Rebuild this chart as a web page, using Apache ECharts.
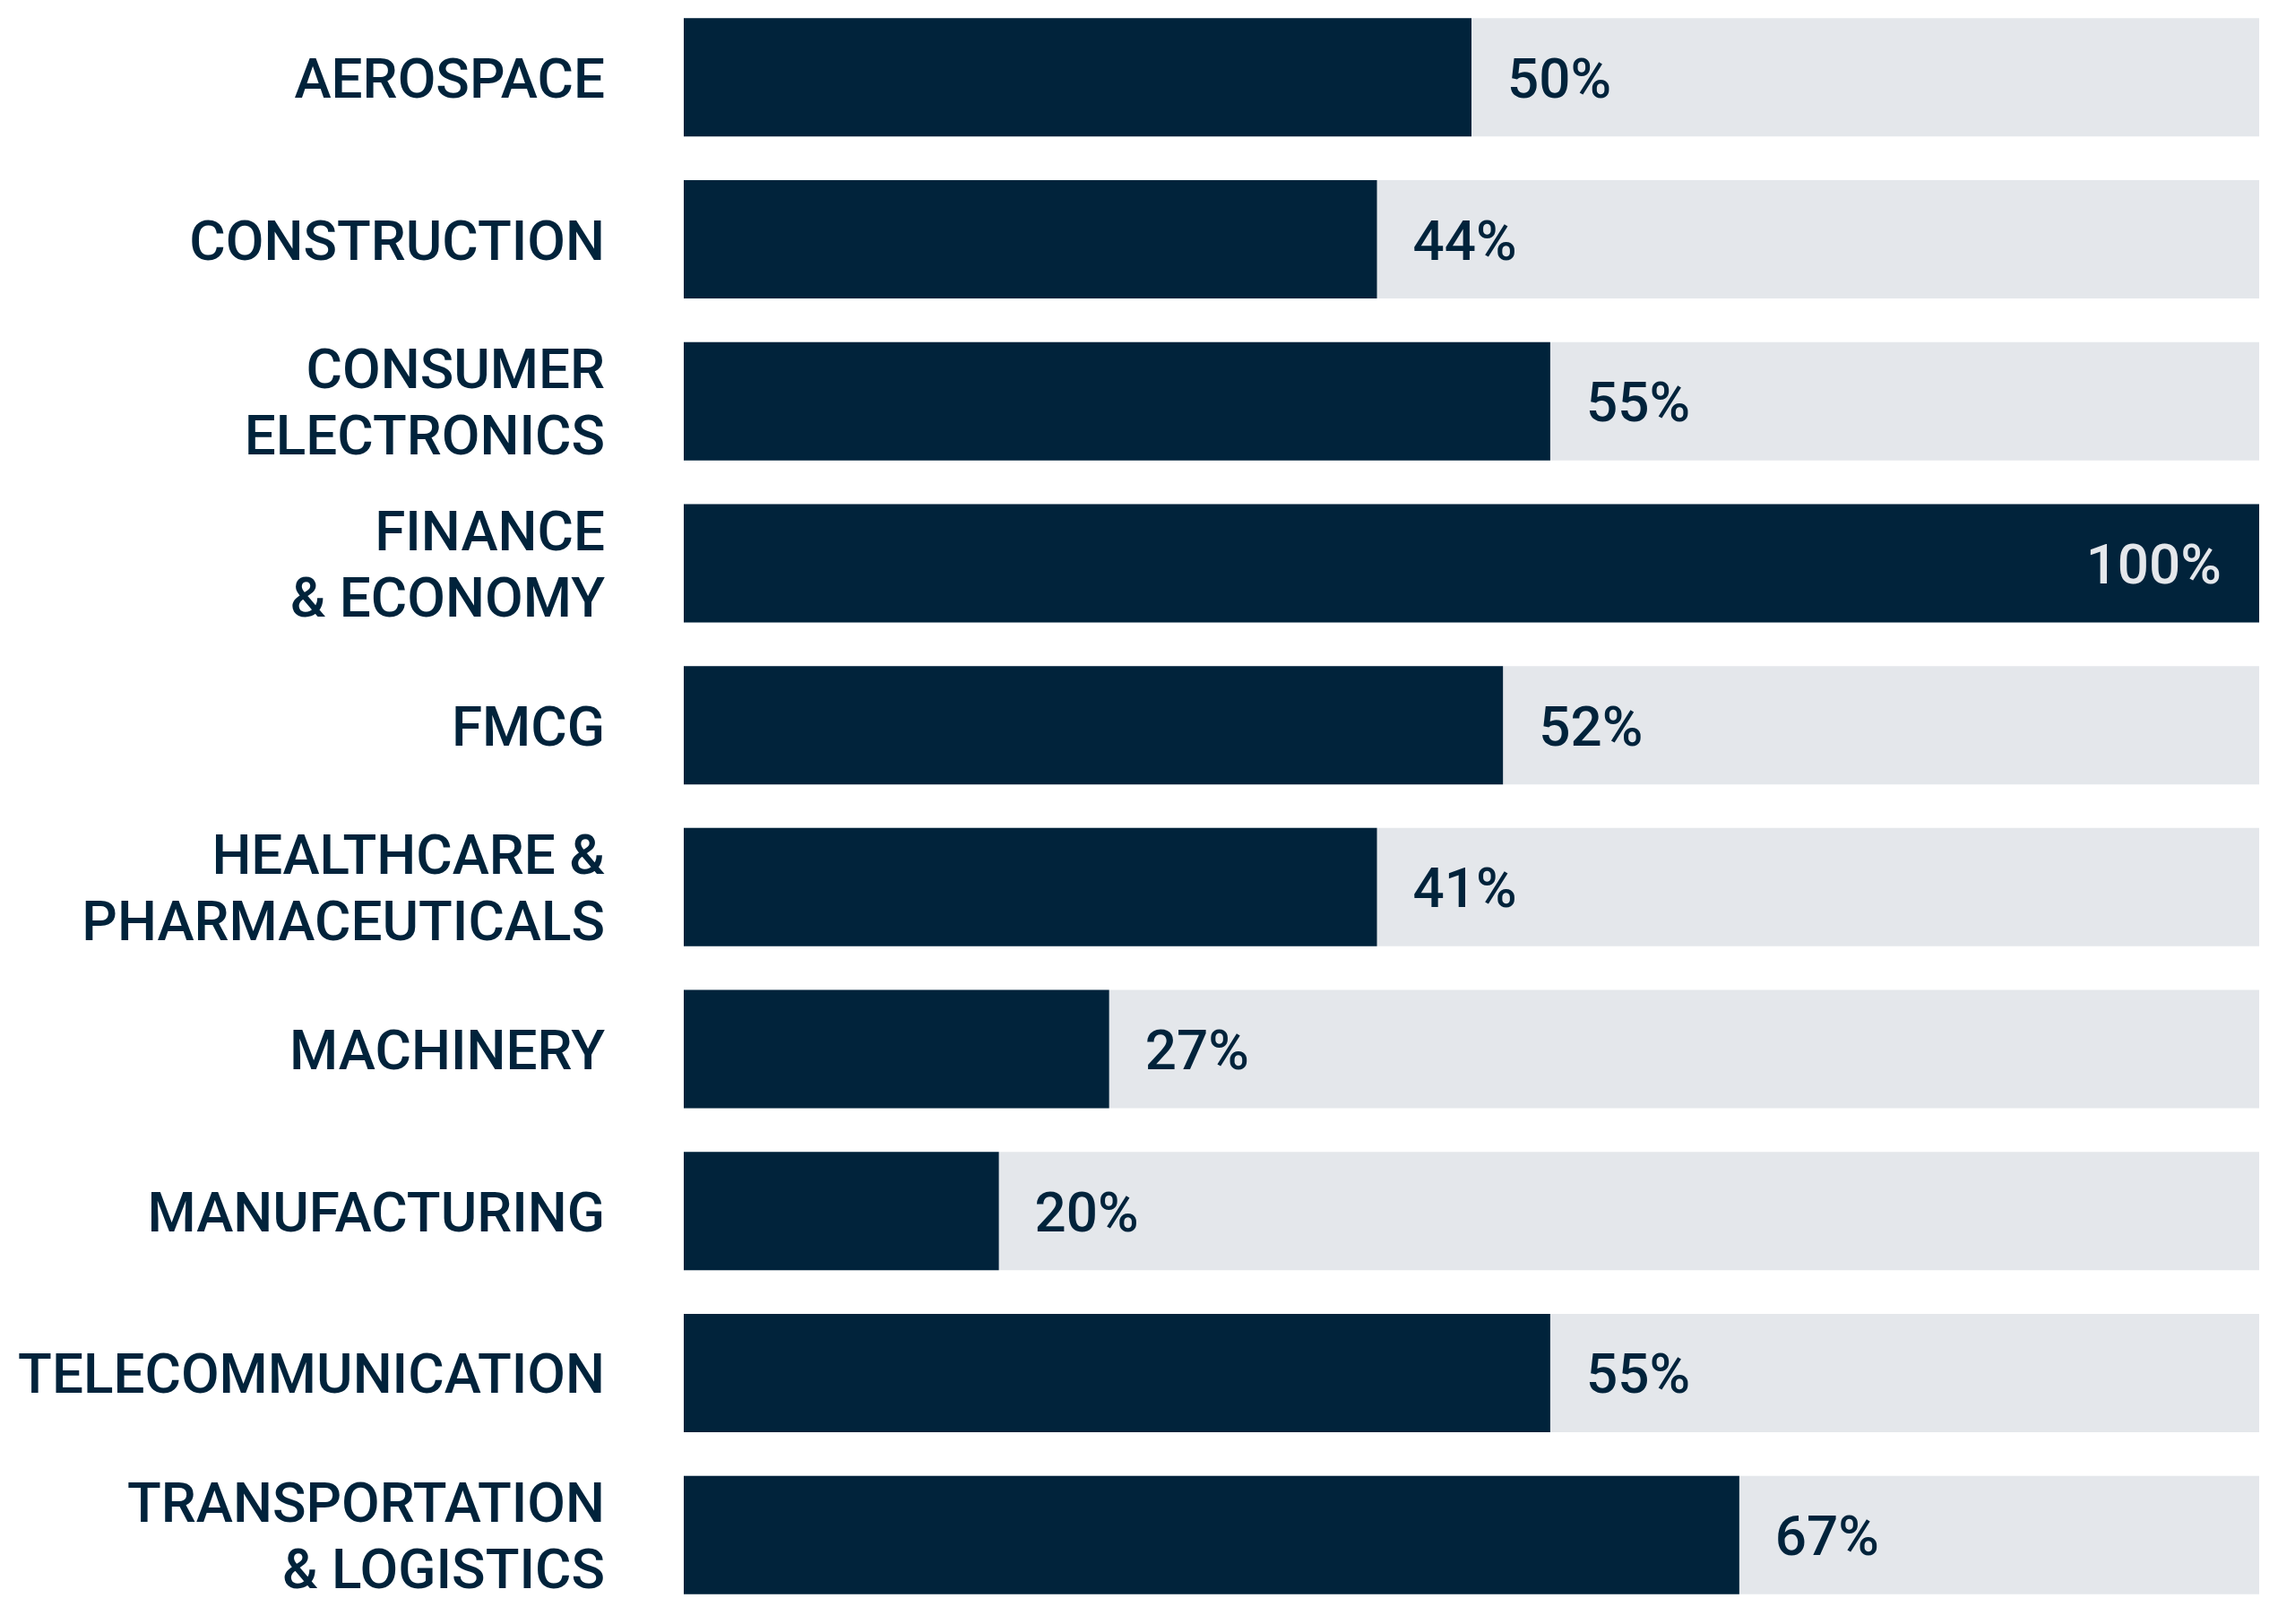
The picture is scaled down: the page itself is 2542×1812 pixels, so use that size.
<!DOCTYPE html>
<html>
<head>
<meta charset="utf-8">
<script src="https://cdn.jsdelivr.net/npm/echarts@6/dist/echarts.min.js"></script>
<style>
  html, body { margin: 0; padding: 0; background: #fff; overflow: hidden; }
  /* chart box starts a few px above the page so the first band is cut like the source */
  #chart { position: relative; top: -4px; width: 2542px; height: 1816px; }
</style>
</head>
<body>
<div id="chart"></div>
<script>
// industries, top to bottom
var categories = [
  'AEROSPACE',
  'CONSTRUCTION',
  'CONSUMER\nELECTRONICS',
  'FINANCE\n& ECONOMY',
  'FMCG',
  'HEALTHCARE &\nPHARMACEUTICALS',
  'MACHINERY',
  'MANUFACTURING',
  'TELECOMMUNICATION',
  'TRANSPORTATION\n& LOGISTICS'
];
// bar lengths as drawn
var values = [50, 44, 55, 100, 52, 44, 27, 20, 55, 67];
// printed labels (healthcare bar is drawn at 44 but labelled 41)
var valueLabels = ['50%', '44%', '55%', '100%', '52%', '41%', '27%', '20%', '55%', '67%'];

var navy = '#01233b';
var light = '#e4e7eb';

var chart = echarts.init(document.getElementById('chart'));

var textStyle = {
  color: navy,
  fontFamily: 'Roboto',
  fontWeight: 500,
  fontSize: 62
};

var data = values.map(function (v, i) {
  var item = { value: v, label: { formatter: valueLabels[i] } };
  if (v >= 100) {
    item.label.position = 'insideRight';
    item.label.distance = 42;
    item.label.color = light;
  }
  return item;
});

var option = {
  animation: false,
  grid: { left: 763, right: 21, top: 0, bottom: 9 },
  xAxis: { type: 'value', min: 0, max: 100, show: false },
  yAxis: {
    type: 'category',
    data: categories,
    inverse: true,
    axisLine: { show: false },
    axisTick: { show: false },
    axisLabel: { show: false }
  },
  series: [{
    type: 'bar',
    data: data,
    barWidth: 132,
    itemStyle: { color: navy },
    showBackground: true,
    backgroundStyle: { color: light },
    label: Object.assign({
      show: true,
      position: 'right',
      distance: 40,
      offset: [0, 7]
    }, textStyle)
  }, {
    // transparent twin of the bars, only carries the category names on the left
    type: 'bar',
    data: values,
    barWidth: 132,
    barGap: '-100%',
    silent: true,
    itemStyle: { color: 'rgba(0,0,0,0)' },
    label: Object.assign({
      show: true,
      formatter: '{b}',
      position: [-88, '50%'],
      align: 'right',
      verticalAlign: 'middle',
      lineHeight: 74,
      offset: [0, 7]
    }, textStyle)
  }]
};

chart.setOption(option);
</script>
</body>
</html>
